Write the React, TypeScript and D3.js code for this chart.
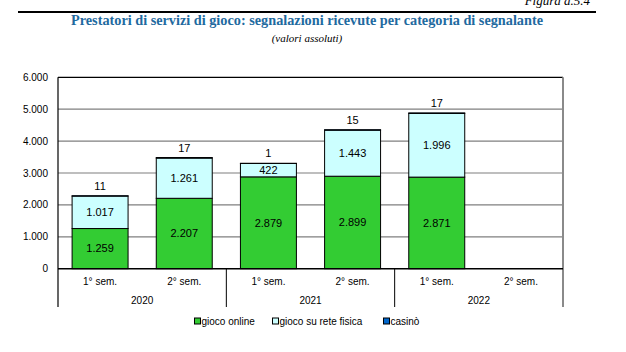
import React from "react";
import * as d3 from "d3";

const semesters = ["1° sem.", "2° sem.", "1° sem.", "2° sem.", "1° sem.", "2° sem."];
const years = ["2020", "2021", "2022"];
const giocoOnline = [1259, 2207, 2879, 2899, 2871, null];
const giocoFisica = [1017, 1261, 422, 1443, 1996, null];
const casino = [11, 17, 1, 15, 17, null];
const yTicks = [0, 1000, 2000, 3000, 4000, 5000, 6000];

const seriesNames = ["gioco online", "gioco su rete fisica", "casinò"];
const colors = ["#33cc33", "#ccffff", "#0066cc"];

const fmt = (v: number) => d3.format(",")(v).replace(/,/g, ".");

export default function App() {
  const W = 626, H = 352;
  const left = 58, right = 563, top = 77.3, bottom = 268.7;
  const x = d3.scaleBand<number>().domain(d3.range(semesters.length)).range([left, right]).paddingInner(0.335).paddingOuter(0.1675);
  const y = d3.scaleLinear().domain([0, 6000]).range([bottom, top]);
  const font = "'Liberation Sans', Arial, sans-serif";
  const rows = semesters.map((_, i) => [giocoOnline[i], giocoFisica[i], casino[i]]);
  return (
    <div style={{ position: "absolute", left: 0, top: 0 }}>
      <svg width={W} height={H} style={{ display: "block", background: "#fff" }}>
        <text x={590} y={5} textAnchor="end" fontFamily="'Liberation Serif', serif" fontStyle="italic" fontSize={13}>Figura d.5.4</text>
        <line x1={18} x2={596} y1={12} y2={12} stroke="#000" strokeWidth={2} />
        <text x={307} y={25} textAnchor="middle" textLength={472} lengthAdjust="spacingAndGlyphs" fontFamily="'Liberation Serif', serif" fontWeight="bold" fontSize={14.3} fill="#1f6aa0">
          Prestatori di servizi di gioco: segnalazioni ricevute per categoria di segnalante
        </text>
        <text x={307} y={41.5} textAnchor="middle" fontFamily="'Liberation Serif', serif" fontStyle="italic" fontSize={11}>(valori assoluti)</text>
        {yTicks.map((t) => (
          <g key={t}>
            {t > 0 && <line x1={left} x2={right} y1={y(t)} y2={y(t)} stroke={t === 6000 ? "#000" : "#7f7f7f"} strokeWidth={1.2} />}
            <text x={left - 10} y={y(t)} dy="0.35em" textAnchor="end" fontFamily={font} fontSize={10}>{fmt(t)}</text>
          </g>
        ))}
        <line x1={right} x2={right} y1={top} y2={307} stroke="#8a8a8a" strokeWidth={2} />
        {rows.map((vals, i) => {
          if (vals[0] == null) return null;
          let acc = 0;
          const bx = x(i)!, bw = x.bandwidth();
          const segs = vals.map((v, k) => {
            const y0 = acc; acc += v as number;
            return { k, v: v as number, y0, y1: acc };
          });
          return (
            <g key={i}>
              {segs.map((s) => (
                <rect key={s.k} x={bx} y={y(s.y1)} width={bw} height={y(s.y0) - y(s.y1)} fill={colors[s.k]} stroke="#000" strokeWidth={1} />
              ))}
              {segs.slice(0, 2).map((s) => (
                <text key={"t" + s.k} x={bx + bw / 2} y={y((s.y0 + s.y1) / 2)} dy="0.35em" textAnchor="middle" fontFamily={font} fontSize={11}>{fmt(s.v)}</text>
              ))}
              <text x={bx + bw / 2} y={y(acc) - 6} textAnchor="middle" fontFamily={font} fontSize={11}>{fmt(segs[2].v)}</text>
            </g>
          );
        })}
        <line x1={left} x2={right} y1={bottom} y2={bottom} stroke="#000" strokeWidth={1.5} />
        <line x1={left} x2={left} y1={top} y2={307} stroke="#000" strokeWidth={1.2} />
        {semesters.map((s, i) => (
          <text key={i} x={x(i)! + x.bandwidth() / 2} y={285} textAnchor="middle" fontFamily={font} fontSize={10}>{s}</text>
        ))}
        {years.map((yr, j) => {
          const gx0 = left + ((right - left) / 3) * j;
          const gx1 = left + ((right - left) / 3) * (j + 1);
          return (
            <g key={yr}>
              {j > 0 && <line x1={gx0} x2={gx0} y1={bottom} y2={307} stroke="#000" strokeWidth={1} />}
              <text x={(gx0 + gx1) / 2} y={303.5} textAnchor="middle" fontFamily={font} fontSize={10}>{yr}</text>
            </g>
          );
        })}
        {seriesNames.map((n, k) => {
          const lx = [194.5, 272.5, 383.5][k];
          return (
            <g key={n}>
              <rect x={lx} y={318} width={6} height={6} fill={colors[k]} stroke="#000" strokeWidth={1} />
              <text x={lx + 7} y={325} fontFamily={font} fontSize={10}>{n}</text>
            </g>
          );
        })}
      </svg>
    </div>
  );
}
